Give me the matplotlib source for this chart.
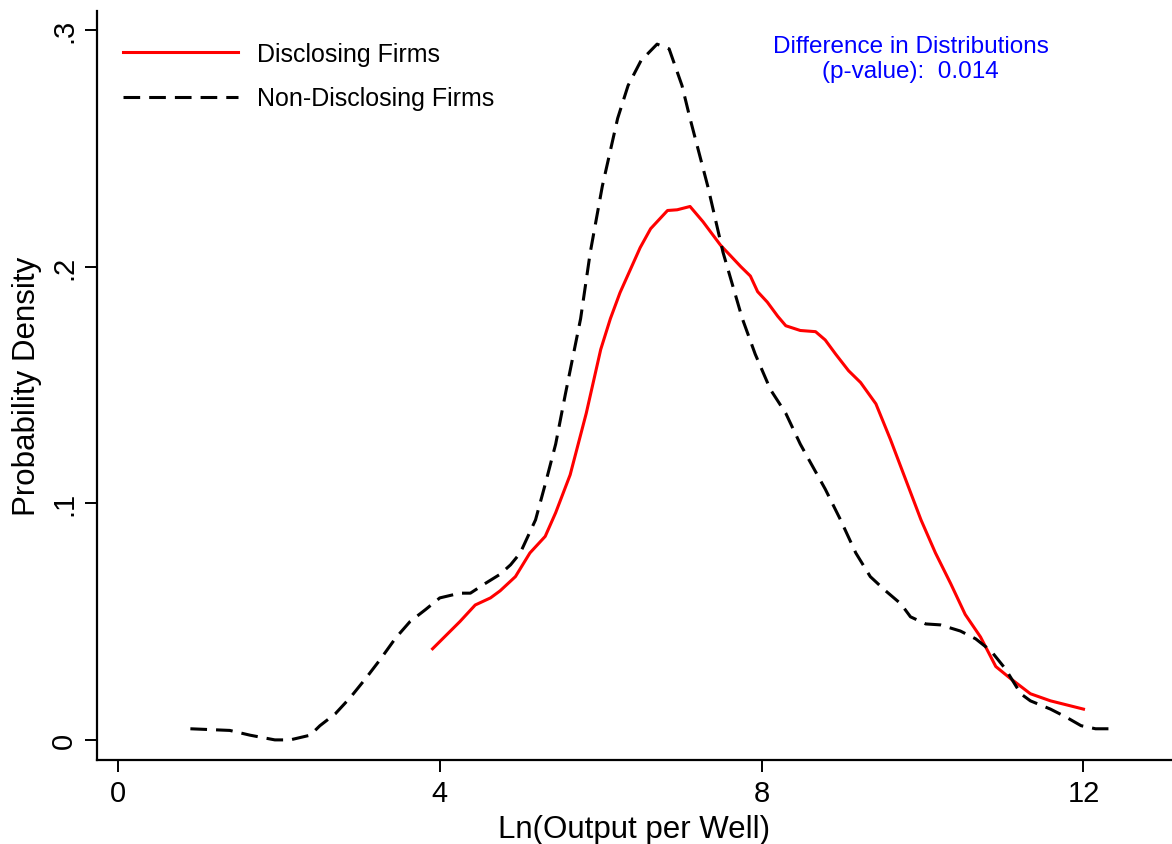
import matplotlib
matplotlib.use("Agg")
import matplotlib.pyplot as plt
from matplotlib.ticker import FuncFormatter

plt.rcParams['font.family'] = ['Liberation Sans', 'DejaVu Sans']
plt.rcParams['lines.scale_dashes'] = False

# kernel density: Disclosing firms
disc_x = [3.91, 4.25, 4.44, 4.63, 4.75, 4.94, 5.12, 5.31, 5.44, 5.62, 5.82, 6.0,
          6.12, 6.24, 6.49, 6.62, 6.83, 6.95, 7.11, 7.27, 7.49, 7.61, 7.74, 7.86,
          7.95, 8.07, 8.20, 8.30, 8.48, 8.67, 8.79, 8.92, 9.08, 9.23, 9.42, 9.60,
          9.79, 9.98, 10.16, 10.35, 10.53, 10.72, 10.91, 11.09, 11.34, 11.59, 12.0]
disc_y = [0.0385, 0.050, 0.057, 0.060, 0.063, 0.069, 0.079, 0.086, 0.096, 0.112,
          0.138, 0.165, 0.178, 0.189, 0.208, 0.216, 0.2237, 0.224, 0.2254, 0.219,
          0.209, 0.2047, 0.200, 0.196, 0.1894, 0.185, 0.179, 0.175, 0.173, 0.1725,
          0.169, 0.163, 0.156, 0.151, 0.142, 0.127, 0.110, 0.093, 0.079, 0.066,
          0.053, 0.0435, 0.031, 0.026, 0.0195, 0.0165, 0.013]

# Non-disclosing firms
nond_x = [0.90, 1.39, 1.64, 1.95, 2.14, 2.39, 2.51, 2.70, 2.89, 3.08, 3.26, 3.45,
          3.63, 3.82, 4.0, 4.25, 4.38, 4.56, 4.75, 4.88, 5.0, 5.19, 5.31, 5.44,
          5.56, 5.75, 5.87, 6.02, 6.21, 6.34, 6.50, 6.70, 6.85, 7.01, 7.11, 7.33,
          7.52, 7.76, 7.92, 8.11, 8.30, 8.48, 8.61, 8.79, 8.98, 9.17, 9.35, 9.54,
          9.73, 9.85, 10.04, 10.22, 10.47, 10.66, 10.85, 11.03, 11.22, 11.34,
          11.59, 11.78, 11.97, 12.15, 12.31]
nond_y = [0.0047, 0.004, 0.002, 0.0, 0.0, 0.002, 0.006, 0.011, 0.018, 0.026,
          0.034, 0.043, 0.050, 0.055, 0.060, 0.062, 0.062, 0.066, 0.070, 0.074,
          0.079, 0.093, 0.108, 0.125, 0.146, 0.178, 0.206, 0.234, 0.2626, 0.2765,
          0.287, 0.294, 0.292, 0.2765, 0.2626, 0.234, 0.206, 0.178, 0.163, 0.148,
          0.138, 0.125, 0.117, 0.106, 0.093, 0.079, 0.069, 0.063, 0.0575, 0.052,
          0.049, 0.0486, 0.046, 0.0427, 0.0376, 0.030, 0.0195, 0.0165, 0.013,
          0.0097, 0.006, 0.0047, 0.0047]

x_ticks = [0, 4, 8, 12]
y_ticks = [0, 0.1, 0.2, 0.3]

fig = plt.figure(figsize=(11.72, 8.45), dpi=100)
ax = fig.add_axes([0.0828, 0.0994, 0.9172, 0.8864])

ax.plot(disc_x, disc_y, color='red', lw=2.2, label='Disclosing Firms')
ax.plot(nond_x, nond_y, color='black', lw=2.2, dashes=(12, 6.5),
        label='Non-Disclosing Firms')

ax.set_xlim(-0.26, 13.1)
ax.set_ylim(-0.0085, 0.308)
ax.set_xticks(x_ticks)
ax.set_yticks(y_ticks)
ax.yaxis.set_major_formatter(FuncFormatter(
    lambda v, p: '0' if v == 0 else ('%.1f' % v).lstrip('0')))

for s in ['top', 'right']:
    ax.spines[s].set_visible(False)
for s in ['left', 'bottom']:
    ax.spines[s].set_linewidth(1.6)
ax.tick_params(axis='both', direction='out', length=8.5, width=1.4,
               labelsize=21, pad=5)
for lab in ax.get_yticklabels():
    lab.set_rotation(90)
    lab.set_va('center')

ax.set_xlabel('Ln(Output per Well)', fontsize=22.5, labelpad=5)
ax.set_ylabel('Probability Density', fontsize=22.5, labelpad=6)

ax.legend(loc='upper left', frameon=False, fontsize=18, handlelength=4.6,
          handletextpad=0.75, labelspacing=0.82, bbox_to_anchor=(0.008, 0.982),
          borderaxespad=0.3)

ax.text(9.85, 0.288, 'Difference in Distributions\n(p-value):  0.014',
        color='blue', fontsize=17.5, ha='center', va='center', linespacing=1.2)

fig.savefig('out.png', dpi=100)
